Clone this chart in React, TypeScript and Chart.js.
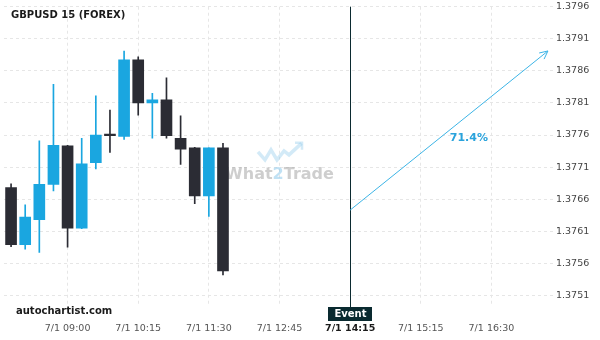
import React, { useEffect, useRef } from "react";
import { Chart, registerables } from "chart.js";

Chart.register(...registerables);

// ---- data ----
const categories = [
  "08:00", "08:15", "08:30", "08:45", "09:00", "09:15", "09:30", "09:45",
  "10:00", "10:15", "10:30", "10:45", "11:00", "11:15", "11:30", "11:45",
  "12:00", "12:15", "12:30", "12:45", "13:00", "13:15", "13:30", "13:45",
  "14:00", "14:15", "14:30", "14:45", "15:00", "15:15", "15:30", "15:45",
  "16:00", "16:15", "16:30", "16:45", "17:00", "17:15", "17:30",
];
const opens = [1.37678, 1.37589, 1.37628, 1.37683, 1.37743, 1.37615, 1.37717, 1.3776, 1.37758, 1.37877, 1.3781, 1.37815, 1.37755, 1.3774, 1.37665, 1.3774];
const highs = [1.37684, 1.37651, 1.37751, 1.37839, 1.37744, 1.37755, 1.37821, 1.37799, 1.37891, 1.37882, 1.37825, 1.37849, 1.3779, 1.37741, 1.3774, 1.37747];
const lows = [1.37586, 1.37582, 1.37577, 1.37673, 1.37585, 1.37614, 1.37707, 1.37733, 1.37753, 1.37791, 1.37755, 1.37755, 1.37714, 1.37653, 1.37633, 1.37542];
const closes = [1.37589, 1.37632, 1.37683, 1.37744, 1.37615, 1.37715, 1.3776, 1.37759, 1.37877, 1.3781, 1.37815, 1.37759, 1.37738, 1.37665, 1.3774, 1.37548];

const xTickIndex = [4, 9, 14, 19, 24, 29, 34];
const xTickLabels = ["7/1 09:00", "7/1 10:15", "7/1 11:30", "7/1 12:45", "7/1 14:15", "7/1 15:15", "7/1 16:30"];
const yTickValues = [1.3751, 1.3756, 1.3761, 1.3766, 1.3771, 1.3776, 1.3781, 1.3786, 1.3791, 1.3796];

const eventIndex = 24;
const arrowIndex = [24, 38];
const arrowValue = [1.37643, 1.37891];
const probabilityText = "71.4%";
const probabilityIndex = 32.4;
const probabilityValue = 1.37755;

const Y_MIN = 1.374935;
const Y_MAX = 1.3796;

const BLUE = "#1aa6e0";
const DARK = "#2b2c34";
const FONT = "'DejaVu Sans', sans-serif";

const overlayPlugin = {
  id: "overlay",
  beforeDatasetsDraw(chart: any) {
    const { ctx, chartArea } = chart;
    const cx = (chartArea.left + chartArea.right) / 2;
    const cy = (chartArea.top + chartArea.bottom) / 2;
    ctx.save();
    // logo zigzag
    ctx.strokeStyle = "rgba(150,205,235,0.42)";
    ctx.lineWidth = 3.5;
    ctx.lineJoin = "miter";
    ctx.beginPath();
    ctx.moveTo(cx - 21.5, cy - 4.5);
    ctx.lineTo(cx - 14.5, cy + 3.5);
    ctx.lineTo(cx - 8.5, cy - 6.5);
    ctx.lineTo(cx - 2.5, cy + 3.5);
    ctx.lineTo(cx + 4.5, cy - 5.5);
    ctx.lineTo(cx + 9.5, cy - 1.5);
    ctx.lineTo(cx + 22, cy - 13);
    ctx.stroke();
    ctx.lineWidth = 2.5;
    ctx.beginPath();
    ctx.moveTo(cx + 15.5, cy - 13.5);
    ctx.lineTo(cx + 22.5, cy - 13.5);
    ctx.lineTo(cx + 22.5, cy - 6.5);
    ctx.stroke();
    // text
    ctx.font = `bold 16px ${FONT}`;
    ctx.textBaseline = "middle";
    ctx.textAlign = "left";
    const parts = [["What", "rgba(165,165,165,0.55)"], ["2", "rgba(140,200,235,0.55)"], ["Trade", "rgba(165,165,165,0.55)"]];
    const total = parts.reduce((s, p) => s + ctx.measureText(p[0]).width, 0);
    let x = cx - total / 2;
    for (const [t, c] of parts) {
      ctx.fillStyle = c;
      ctx.fillText(t, x, cy + 18);
      x += ctx.measureText(t).width;
    }
    ctx.restore();
  },
  afterDraw(chart: any) {
    const { ctx, chartArea, scales } = chart;
    const xs = scales.x;
    const ys = scales.y;
    ctx.save();
    // event line
    const ex = Math.round(xs.getPixelForValue(eventIndex)) + 0.5;
    ctx.strokeStyle = "#0b2a30";
    ctx.lineWidth = 1;
    ctx.beginPath();
    ctx.moveTo(ex, chartArea.top);
    ctx.lineTo(ex, chartArea.bottom + 1);
    ctx.stroke();
    // event box
    ctx.fillStyle = "#0a2a30";
    ctx.fillRect(ex - 22.5, chartArea.bottom + 1, 44, 14);
    ctx.fillStyle = "#ffffff";
    ctx.font = `bold 10px ${FONT}`;
    ctx.textAlign = "center";
    ctx.textBaseline = "middle";
    ctx.fillText("Event", ex, chartArea.bottom + 8.5);

    // arrow
    const x0 = xs.getPixelForValue(arrowIndex[0]);
    const x1 = xs.getPixelForValue(arrowIndex[1]);
    const y0 = ys.getPixelForValue(arrowValue[0]);
    const y1 = ys.getPixelForValue(arrowValue[1]);
    ctx.strokeStyle = "#3cb4e6";
    ctx.lineWidth = 1;
    ctx.beginPath();
    ctx.moveTo(x0, y0);
    ctx.lineTo(x1, y1);
    ctx.stroke();
    const ang = Math.atan2(y1 - y0, x1 - x0);
    const L = 9;
    ctx.beginPath();
    ctx.moveTo(x1 - L * Math.cos(ang - 0.45), y1 - L * Math.sin(ang - 0.45));
    ctx.lineTo(x1, y1);
    ctx.lineTo(x1 - L * Math.cos(ang + 0.45), y1 - L * Math.sin(ang + 0.45));
    ctx.stroke();

    // probability text
    ctx.fillStyle = "#2aa3dc";
    ctx.font = `bold 11px ${FONT}`;
    ctx.textAlign = "center";
    ctx.fillText(probabilityText, xs.getPixelForValue(probabilityIndex), ys.getPixelForValue(probabilityValue));

    // title & footer
    ctx.fillStyle = "#1a1a1a";
    ctx.textAlign = "left";
    ctx.font = `bold 10px ${FONT}`;
    ctx.fillText("GBPUSD 15 (FOREX)", 11, 15);
    ctx.fillText("autochartist.com", 16, 311);
    ctx.restore();
  },
};

export default function App() {
  const ref = useRef<HTMLCanvasElement | null>(null);
  useEffect(() => {
    document.body.style.margin = "0";
    const canvas = ref.current!;
    const bodies = opens.map((o, i) => [o, closes[i]]);
    const wicks = lows.map((l, i) => [l, highs[i]]);
    const colors = opens.map((o, i) => (closes[i] >= o ? BLUE : DARK));
    const chart = new Chart(canvas, {
      type: "bar",
      data: {
        labels: categories,
        datasets: [
          {
            data: bodies as any,
            backgroundColor: colors,
            barThickness: 11,
            minBarLength: 1.5,
            grouped: false,
            order: 1,
          },
          {
            data: wicks as any,
            backgroundColor: colors,
            barThickness: 1,
            grouped: false,
            order: 2,
          },
        ],
      },
      options: {
        animation: false,
        responsive: false,
        maintainAspectRatio: false,
        layout: { padding: { left: 4, top: 3, right: 0, bottom: 0 } },
        plugins: { legend: { display: false }, tooltip: { enabled: false }, title: { display: false } },
        scales: {
          x: {
            type: "category",
            offset: true,
            grid: { offset: false, color: "#e6e6e6", drawTicks: false } as any,
            border: { display: false, dash: [3, 3] },
            afterBuildTicks: (s: any) => {
              s.ticks = xTickIndex.map((v) => ({ value: v }));
            },
            afterFit: (s: any) => {
              s.height = 34;
            },
            ticks: {
              autoSkip: false,
              maxRotation: 0,
              padding: 17,
              color: (c: any) => (c.tick && c.tick.value === eventIndex ? "#1a1a1a" : "#555555"),
              font: (c: any) => ({
                family: FONT,
                size: 9.5,
                weight: c.tick && c.tick.value === eventIndex ? "bold" : "normal",
              }),
              callback: (v: any) => xTickLabels[xTickIndex.indexOf(Number(v))],
            },
          },
          y: {
            position: "right",
            min: Y_MIN,
            max: Y_MAX,
            grid: { color: "#e6e6e6", drawTicks: false },
            border: { display: false, dash: [3, 3] },
            afterBuildTicks: (s: any) => {
              s.ticks = yTickValues.map((v) => ({ value: v }));
            },
            afterFit: (s: any) => {
              s.width = 45;
            },
            ticks: {
              padding: 1,
              color: "#444444",
              font: { family: FONT, size: 9.5 },
              callback: (v: any) => Number(v).toFixed(4),
            },
          },
        },
      },
      plugins: [overlayPlugin],
    });
    return () => chart.destroy();
  }, []);
  return (
    <div style={{ width: 600, height: 340 }}>
      <canvas ref={ref} width={600} height={340} style={{ display: "block" }} />
    </div>
  );
}
